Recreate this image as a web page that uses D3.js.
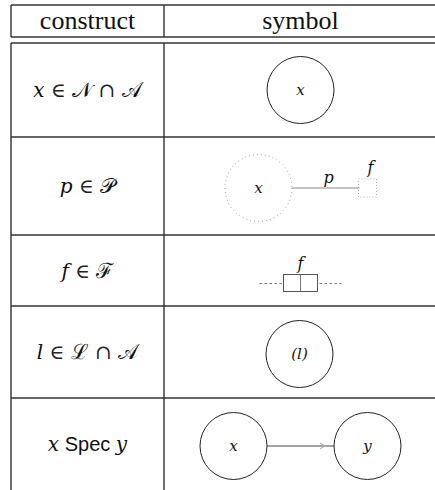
<!DOCTYPE html>
<html lang="en">
<head>
<meta charset="UTF-8" />
<title>construct / symbol</title>
<script src="https://d3js.org/d3.v7.min.js"></script>
<style>
    body, html { margin: 0; padding: 0; background: #fff; }
    .rule { stroke: #333; stroke-width: 1.4px; }
    .hdr { font-family: "Liberation Serif", "Times New Roman", serif; font-size: 26px; fill: #111; }
    .math { font-family: "DejaVu Serif", serif; font-style: italic; font-size: 20px; fill: #111; }
    .sym { font-family: "DejaVu Serif", serif; font-size: 20px; fill: #222; }
    .cal { font-family: "DejaVu Serif", serif; font-size: 21px; fill: #111; }
    .sans { font-family: "Liberation Sans", sans-serif; font-size: 20px; fill: #111; }
    .lbl { font-family: "DejaVu Serif", serif; font-style: italic; fill: #111; }
</style>
</head>
<body>
<div id="chart"></div>
<script>
    // header + rows of the table
    const headers = ["construct", "symbol"];
    const rowKeys = ["node", "port", "flow", "layer", "spec"];
    // each label is a list of [text, style] pieces
    const rowLabels = [
        [["x", "math"], [" \u2208 ", "sym"], ["\u{1D4A9}", "cal"], [" \u2229 ", "sym"], ["\u{1D49C}", "cal"]],
        [["p", "math"], [" \u2208 ", "sym"], ["\u{1D4AB}", "cal"]],
        [["f", "math"], [" \u2208 ", "sym"], ["\u2131", "cal"]],
        [["l", "math"], [" \u2208 ", "sym"], ["\u2112", "cal"], [" \u2229 ", "sym"], ["\u{1D49C}", "cal"]],
        [["x", "math"], [" Spec ", "sans"], ["y", "math"]]
    ];
    const rowWeights = [94, 98, 71, 92, 92];

    const width = 435, height = 490;
    const leftX = 11, divX = 164, rightX = 437;
    const topY = 5, headBottom = 37, bodyTop = 43;

    const svg = d3.select("#chart").append("svg")
        .attr("width", width)
        .attr("height", height);

    // column scale
    const colX = d3.scaleOrdinal().domain(headers).range([(leftX + divX) / 2, (divX + rightX) / 2]);

    // row bands from weights
    const cum = d3.cumsum(rowWeights);
    const rowY = d3.scaleLinear().domain([0, cum[cum.length - 1]]).range([bodyTop, 490]);
    const rows = rowKeys.map((k, i) => ({
        key: k,
        label: rowLabels[i],
        y0: rowY(i === 0 ? 0 : cum[i - 1]),
        y1: rowY(cum[i])
    }));
    rows.forEach(r => r.cy = (r.y0 + r.y1) / 2);

    const g = svg.append("g");

    // table rules
    g.append("line").attr("class", "rule").attr("x1", leftX).attr("x2", rightX).attr("y1", topY).attr("y2", topY);
    g.append("line").attr("class", "rule").attr("x1", leftX).attr("x2", rightX).attr("y1", headBottom).attr("y2", headBottom);
    g.append("line").attr("class", "rule").attr("x1", leftX).attr("x2", rightX).attr("y1", bodyTop).attr("y2", bodyTop);
    g.selectAll(".rowline").data(rows.slice(1)).enter().append("line")
        .attr("class", "rule")
        .attr("x1", leftX).attr("x2", rightX)
        .attr("y1", d => d.y0).attr("y2", d => d.y0);
    [leftX, divX].forEach(x => {
        g.append("line").attr("class", "rule").attr("x1", x).attr("x2", x).attr("y1", topY).attr("y2", headBottom);
        g.append("line").attr("class", "rule").attr("x1", x).attr("x2", x).attr("y1", bodyTop).attr("y2", height);
    });

    // header text
    g.selectAll(".hdr").data(headers).enter().append("text")
        .attr("class", "hdr")
        .attr("x", d => colX(d))
        .attr("y", 29)
        .attr("text-anchor", "middle")
        .text(d => d);

    // construct labels
    const lab = g.selectAll(".rowlab").data(rows).enter().append("text")
        .attr("x", colX("construct"))
        .attr("y", d => d.cy + 7)
        .attr("text-anchor", "middle")
        .style("white-space", "pre");
    lab.selectAll("tspan").data(d => d.label).enter().append("tspan")
        .attr("class", d => d[1])
        .text(d => d[0]);

    // symbols
    const sx = colX("symbol");
    const R = 33.5;

    function circle(cx, cy, opts) {
        const c = g.append("circle").attr("cx", cx).attr("cy", cy).attr("r", R)
            .attr("fill", "none").attr("stroke", opts && opts.color || "#222").attr("stroke-width", 1);
        if (opts && opts.dash) c.attr("stroke-dasharray", opts.dash);
        return c;
    }
    function label(x, y, t, size) {
        g.append("text").attr("class", "lbl").attr("x", x).attr("y", y)
            .attr("text-anchor", "middle").style("font-size", (size || 15) + "px").text(t);
    }

    // node
    const rNode = rows[0];
    circle(sx, rNode.cy);
    label(sx, rNode.cy + 5, "x");

    // port
    const rPort = rows[1];
    const px = sx - 42;
    circle(px, rPort.cy + 2, { dash: "1 3", color: "#999" });
    label(px, rPort.cy + 7, "x");
    g.append("line").attr("x1", px + R).attr("x2", px + 101).attr("y1", rPort.cy + 2).attr("y2", rPort.cy + 2)
        .attr("stroke", "#888").attr("stroke-width", 1.2);
    g.append("rect").attr("x", px + 100).attr("y", rPort.cy - 7).attr("width", 18).attr("height", 18)
        .attr("fill", "none").attr("stroke", "#aaa").attr("stroke-dasharray", "1 2");
    label(px + 70, rPort.cy - 3, "p", 16);
    label(px + 112, rPort.cy - 13, "f", 16);

    // flow
    const rFlow = rows[2];
    const fy = rFlow.cy + 13;
    g.append("line").attr("x1", sx - 41).attr("x2", sx + 41).attr("y1", fy).attr("y2", fy)
        .attr("stroke", "#555").attr("stroke-width", 0.8).attr("stroke-dasharray", "2.5 2.5");
    g.append("rect").attr("x", sx - 17).attr("y", fy - 9).attr("width", 34).attr("height", 17)
        .attr("fill", "#fff").attr("stroke", "#555").attr("stroke-width", 1);
    g.append("line").attr("x1", sx).attr("x2", sx).attr("y1", fy - 9).attr("y2", fy + 8)
        .attr("stroke", "#777").attr("stroke-width", 1);
    label(sx, fy - 15, "f", 16);

    // layer
    const rLayer = rows[3];
    circle(sx - 1, rLayer.cy + 2);
    label(sx - 1, rLayer.cy + 7, "(l)");

    // spec
    const rSpec = rows[4];
    const ax = sx - 67, bx = sx + 67, sy = rSpec.cy + 2;
    circle(ax, sy);
    circle(bx, sy);
    label(ax, sy + 5, "x");
    label(bx, sy + 5, "y");
    g.append("line").attr("x1", ax + R).attr("x2", bx - R).attr("y1", sy).attr("y2", sy)
        .attr("stroke", "#333").attr("stroke-width", 0.9);
    g.append("path").attr("d", `M${bx - R - 14},${sy - 3} L${bx - R - 9},${sy} L${bx - R - 14},${sy + 3}`)
        .attr("fill", "none").attr("stroke", "#aaa").attr("stroke-width", 1);
</script>
</body>
</html>
